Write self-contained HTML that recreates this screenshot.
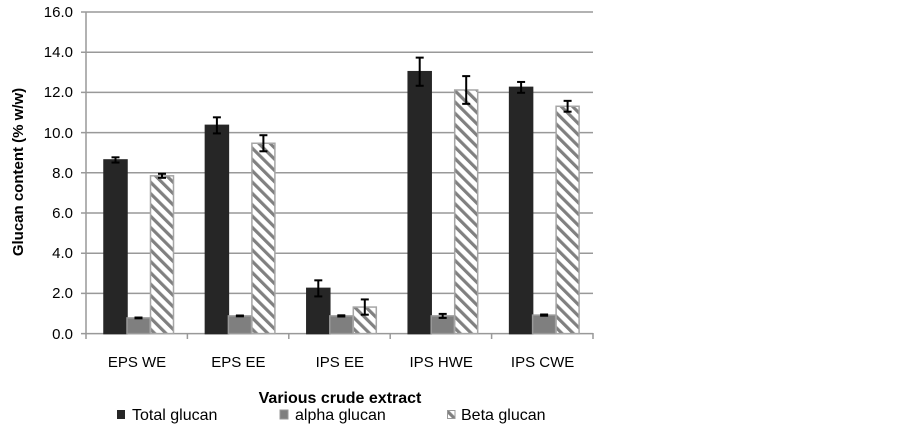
<!DOCTYPE html>
<html><head><meta charset="utf-8"><style>
body{margin:0;background:#fff;}
svg text{font-family:"Liberation Sans",sans-serif;fill:#000;}
</style></head><body>
<svg width="902" height="431" xmlns="http://www.w3.org/2000/svg">
<defs>
<pattern id="h" patternUnits="userSpaceOnUse" width="8" height="8" patternTransform="rotate(-45)">
<rect width="8" height="8" fill="#fff"/>
<rect x="0" y="0" width="3.2" height="8" fill="#808080"/>
</pattern>
</defs>
<g stroke="#999" stroke-width="1.5">
<line x1="81" y1="12" x2="593" y2="12"/>
<line x1="81" y1="52.2" x2="593" y2="52.2"/>
<line x1="81" y1="92.4" x2="593" y2="92.4"/>
<line x1="81" y1="132.6" x2="593" y2="132.6"/>
<line x1="81" y1="172.8" x2="593" y2="172.8"/>
<line x1="81" y1="213" x2="593" y2="213"/>
<line x1="81" y1="253.2" x2="593" y2="253.2"/>
<line x1="81" y1="293.4" x2="593" y2="293.4"/>
<line x1="81" y1="333.6" x2="593" y2="333.6"/>
<line x1="86" y1="12" x2="86" y2="339"/>
<line x1="187.4" y1="333" x2="187.4" y2="339"/>
<line x1="288.8" y1="333" x2="288.8" y2="339"/>
<line x1="390.2" y1="333" x2="390.2" y2="339"/>
<line x1="491.6" y1="333" x2="491.6" y2="339"/>
<line x1="593" y1="333" x2="593" y2="339"/>
</g>
<g font-size="15" text-anchor="end">
<text x="73" y="17">16.0</text><text x="73" y="57">14.0</text><text x="73" y="97">12.0</text>
<text x="73" y="138">10.0</text><text x="73" y="178">8.0</text><text x="73" y="218">6.0</text>
<text x="73" y="258">4.0</text><text x="73" y="298">2.0</text><text x="73" y="339">0.0</text>
</g>
<g id="bars"></g>
<g font-size="15" text-anchor="middle">
<text x="137" y="367">EPS WE</text><text x="238.4" y="367">EPS EE</text><text x="339.8" y="367">IPS EE</text>
<text x="441.2" y="367">IPS HWE</text><text x="542.6" y="367">IPS CWE</text>
</g>
<text x="340" y="403" font-size="16" font-weight="bold" text-anchor="middle">Various crude extract</text>
<text transform="translate(23,172) rotate(-90)" font-size="15" font-weight="bold" text-anchor="middle">Glucan content (% w/w)</text>
<rect x="117" y="410" width="8" height="9" fill="#262626"/>
<text x="132" y="420" font-size="16">Total glucan</text>
<rect x="280" y="410" width="8" height="9" fill="#7f7f7f" stroke="#999" stroke-width="1"/>
<text x="295" y="420" font-size="16">alpha glucan</text>
<rect x="447.5" y="410.5" width="7.5" height="8" fill="url(#h)" stroke="#999" stroke-width="1"/>
<text x="461" y="420" font-size="16">Beta glucan</text>
<script>
var g=document.getElementById('bars');var ns='http://www.w3.org/2000/svg';
var T=[[8.64,.13],[10.36,.4],[2.25,.4],[13.03,.7],[12.25,.27]];
var A=[[.78,.02],[.88,.02],[.88,.03],[.88,.1],[.92,.03]];
var B=[[7.85,.1],[9.47,.4],[1.32,.38],[12.12,.69],[11.31,.27]];
function y(v){return 333.6-v*20.1;}
function el(n,a){var e=document.createElementNS(ns,n);for(var k in a)e.setAttribute(k,a[k]);g.appendChild(e);return e;}
function bar(x,d,fill,stroke){el('rect',{x:x,y:y(d[0]),width:23,height:333.6-y(d[0]),fill:fill,stroke:stroke,'stroke-width':1.5});
var cx=x+11.5,t=y(d[0]+d[1]),b=y(d[0]-d[1]);
el('line',{x1:cx,y1:t,x2:cx,y2:b,stroke:'#000','stroke-width':2});
el('line',{x1:cx-4,y1:t,x2:cx+4,y2:t,stroke:'#000','stroke-width':2});
el('line',{x1:cx-4,y1:b,x2:cx+4,y2:b,stroke:'#000','stroke-width':2});}
for(var i=0;i<5;i++){var x0=86+101.4*i;
bar(x0+18,T[i],'#262626','#262626');bar(x0+41,A[i],'#7f7f7f','#999');bar(x0+64.5,B[i],'url(#h)','#a6a6a6');}
</script>
</svg>
</body></html>
